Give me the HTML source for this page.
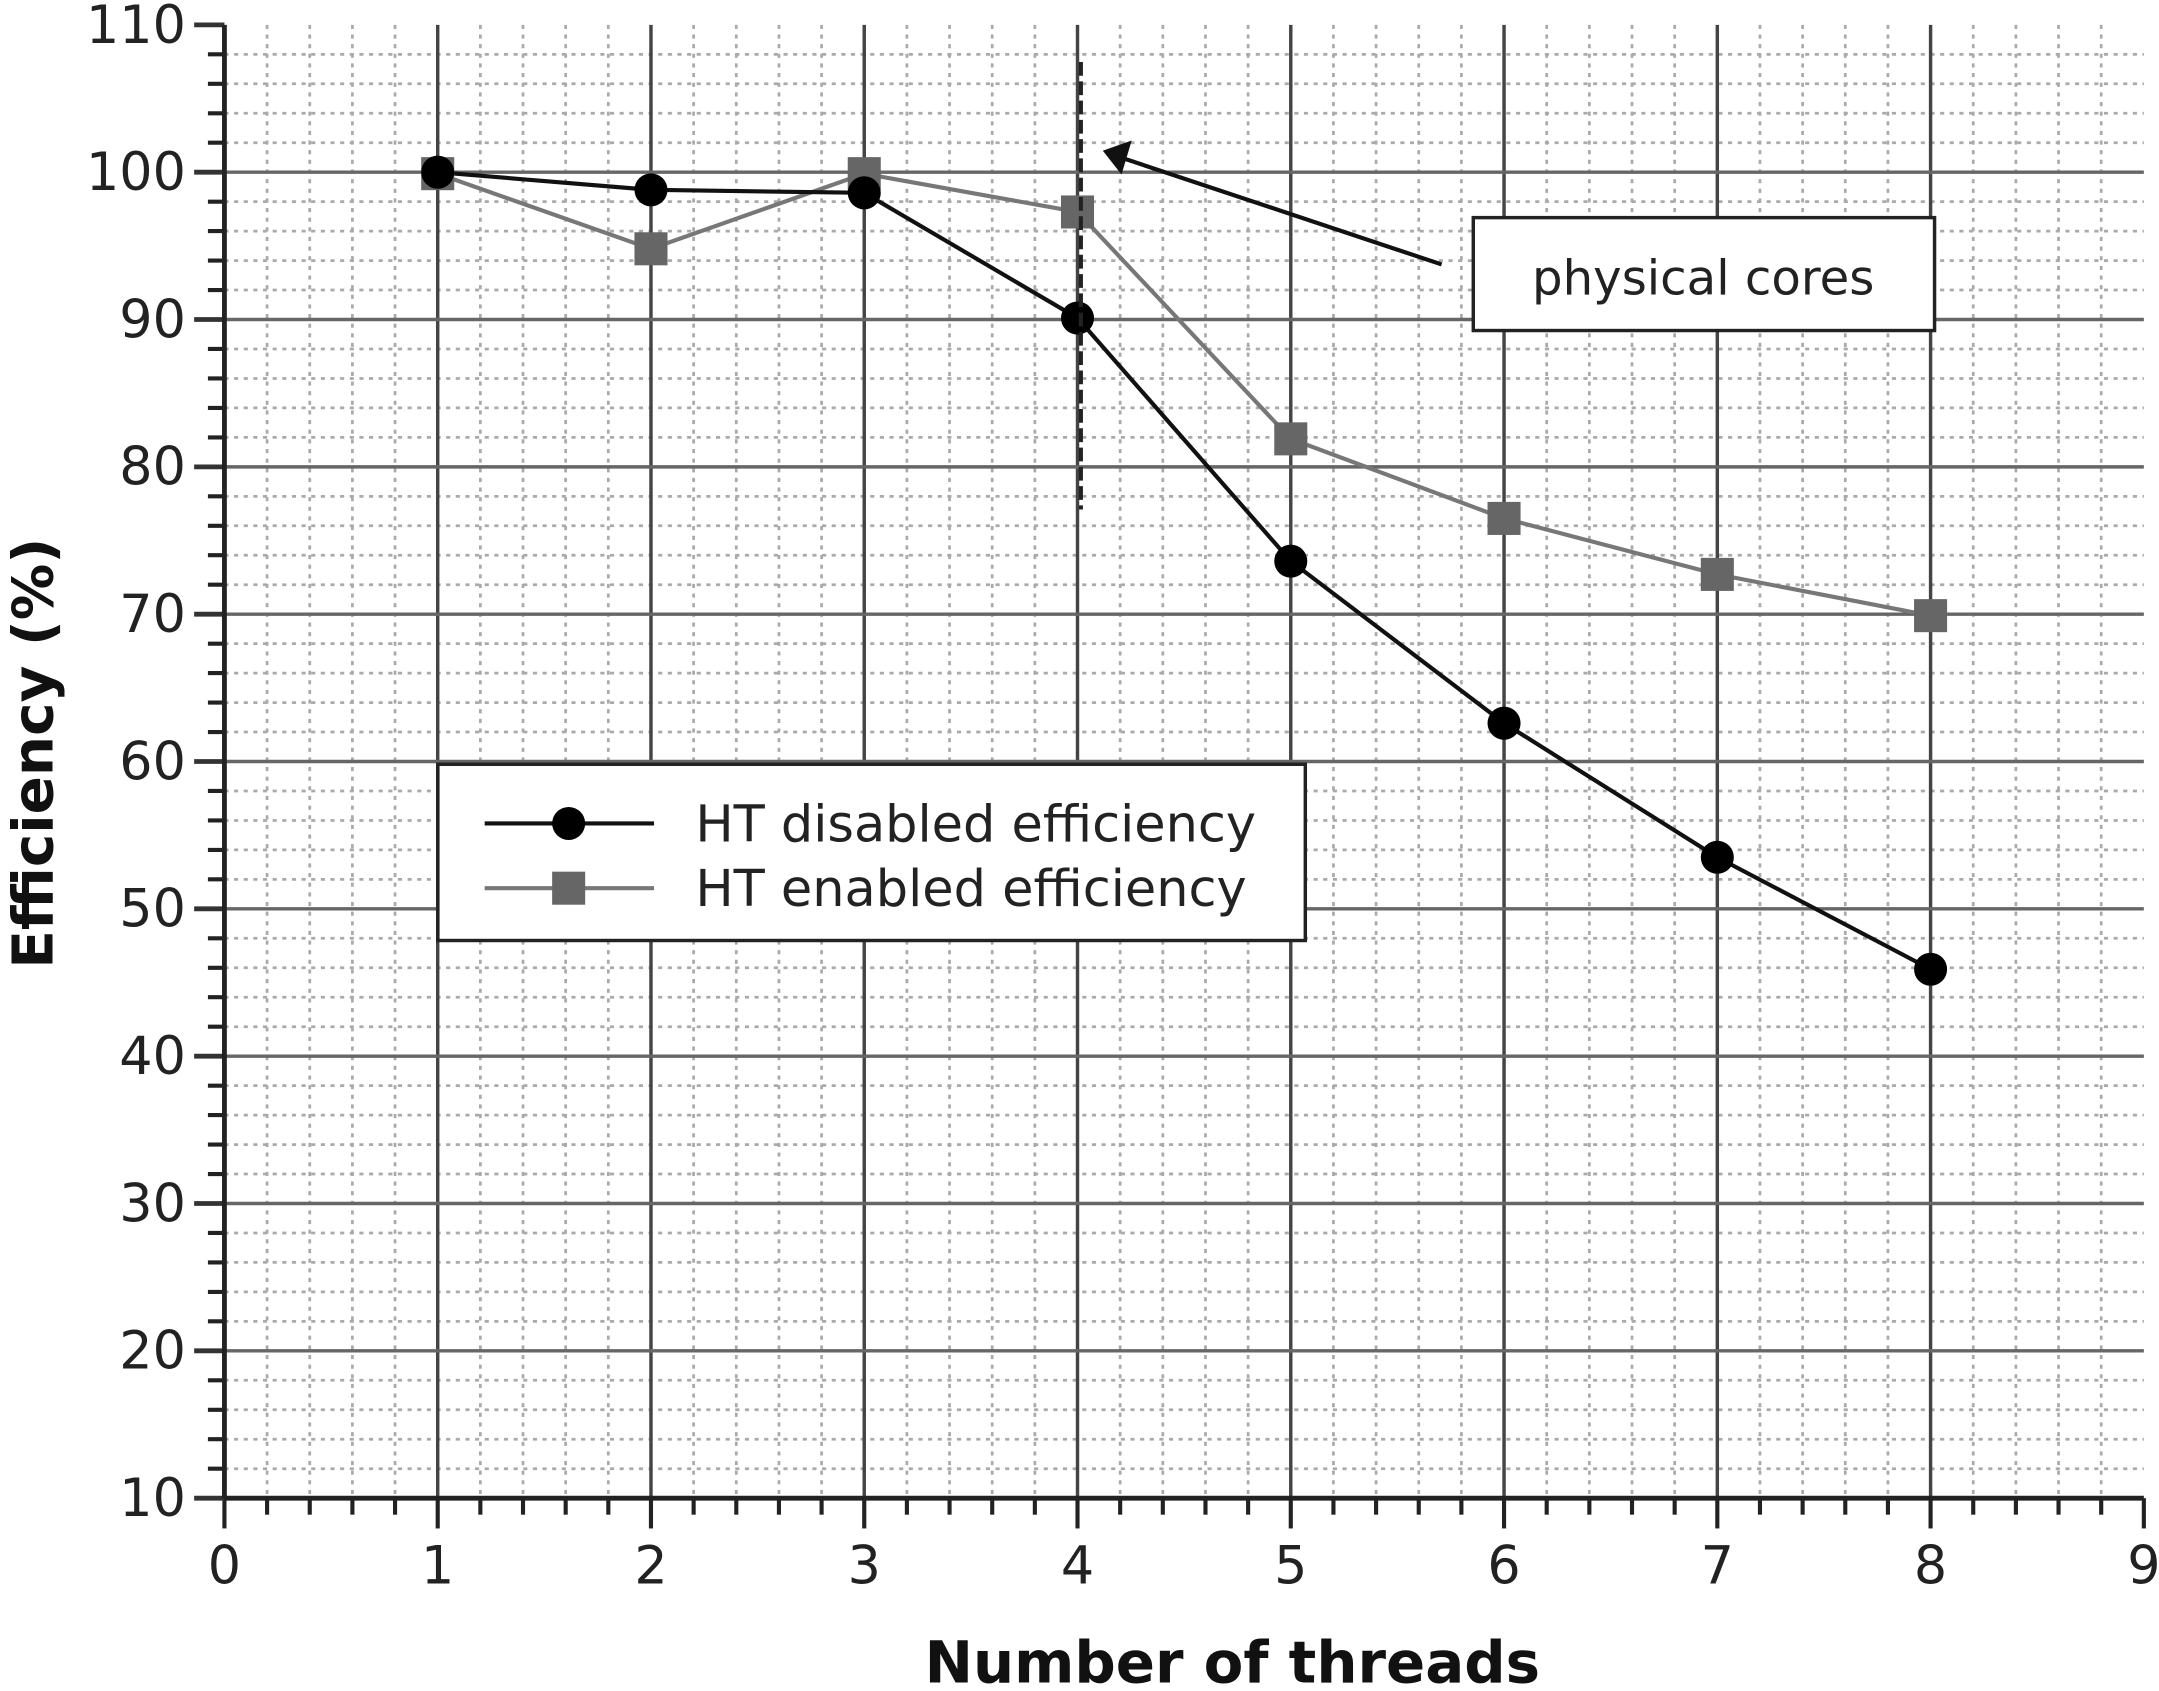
<!DOCTYPE html>
<html><head><meta charset="utf-8"><style>html,body{margin:0;padding:0;background:#fff}svg{display:block}</style></head><body>
<svg id="chart" width="2159" height="1691" viewBox="0 0 1568 1228" xmlns="http://www.w3.org/2000/svg" font-family="'DejaVu Sans','Liberation Sans',sans-serif">
<g id="grid"></g>
<g id="axes"></g>
<g id="series"></g>
<g>
<line x1="785" y1="45" x2="785" y2="370" stroke="#222" stroke-width="3" stroke-dasharray="10,4"/>
<line x1="1047" y1="192" x2="810" y2="113" stroke="#111" stroke-width="3"/>
<path d="M803,110 L820,104 L814,124 Z" stroke="#111" stroke-width="2.5" fill="#111"/>
<rect x="1070" y="158" width="335" height="82" fill="#fff" stroke="#222" stroke-width="2.5"/>
<text x="1237" y="214" font-size="35" text-anchor="middle" fill="#222">physical cores</text>
</g>
<g>
<rect x="318" y="555" width="630" height="128" fill="#fff" stroke="#222" stroke-width="2.5"/>
<line x1="352" y1="598" x2="475" y2="598" stroke="#111" stroke-width="3"/>
<circle cx="413" cy="598" r="12" fill="#000"/>
<text x="505" y="611" font-size="37" fill="#222">HT disabled efficiency</text>
<line x1="352" y1="645" x2="475" y2="645" stroke="#777" stroke-width="3"/>
<rect x="401" y="633" width="24" height="24" fill="#666"/>
<text x="505" y="658" font-size="37" fill="#222">HT enabled efficiency</text>
</g>
<text x="895" y="1222" font-size="42" font-weight="bold" text-anchor="middle" fill="#111">Number of threads</text>
<text transform="translate(38,547) rotate(-90)" font-size="41" font-weight="bold" text-anchor="middle" fill="#111">Efficiency (%)</text>
</svg>
<script>
const threads = [1,2,3,4,5,6,7,8];
const htDisabled = [100,98.8,98.6,90.1,73.6,62.6,53.5,45.9];
const htEnabled = [99.9,94.8,99.9,97.3,81.9,76.5,72.7,69.9];
const xTicks = [0,1,2,3,4,5,6,7,8,9];
const yTicks = [10,20,30,40,50,60,70,80,90,100,110];
const NS='http://www.w3.org/2000/svg';
const X0=163,X1=1557,Y0=1088,Y1=18;
const xs=v=>X0+(v-0)/(9-0)*(X1-X0);
const ys=v=>Y0-(v-10)/(110-10)*(Y0-Y1);
function mk(tag,attrs,parent){const e=document.createElementNS(NS,tag);for(const k in attrs)e.setAttribute(k,attrs[k]);parent.appendChild(e);return e;}
const grid=document.getElementById('grid'),axes=document.getElementById('axes'),series=document.getElementById('series');
for(let v=0;v<=9.001;v+=0.2){const x=xs(v);if(Math.abs(v-Math.round(v))<1e-6)continue;
 const l=mk('line',{x1:x,y1:Y1,x2:x,y2:Y0,stroke:'#aaa','stroke-width':2,'stroke-dasharray':'3,4'},grid);
 
 
 mk('line',{x1:x,y1:Y0,x2:x,y2:Y0+12,stroke:'#222','stroke-width':3},axes);}
for(let v=12;v<110;v+=2){if(v%10===0)continue;const y=ys(v);
 const l=mk('line',{x1:X0,y1:y,x2:X1,y2:y,stroke:'#aaa','stroke-width':2,'stroke-dasharray':'3,4'},grid);
 
 
 mk('line',{x1:X0-12,y1:y,x2:X0,y2:y,stroke:'#222','stroke-width':3},axes);}
xTicks.forEach(v=>{const x=xs(v);
 if(v>0&&v<9){const g=mk('line',{x1:x,y1:Y1,x2:x,y2:Y0,stroke:'#444','stroke-width':2.5},grid);
 
 }
 mk('line',{x1:x,y1:Y0,x2:x,y2:Y0+22,stroke:'#222','stroke-width':3},axes);
 const t=mk('text',{x:x,y:Y0+62,'font-size':38,'text-anchor':'middle',fill:'#222'},axes);t.textContent=v;
 
 });
yTicks.forEach(v=>{const y=ys(v);
 if(v>10&&v<110){const g=mk('line',{x1:X0,y1:y,x2:X1,y2:y,stroke:'#666','stroke-width':2.5},grid);
 
 }
 mk('line',{x1:X0-22,y1:y,x2:X0,y2:y,stroke:'#333','stroke-width':3.5},axes);
 const t=mk('text',{x:X0-28,y:y+13,'font-size':38,'text-anchor':'end',fill:'#222'},axes);t.textContent=v;
 
 });
mk('line',{x1:X0,y1:Y1,x2:X0,y2:Y0,stroke:'#222','stroke-width':3.5},axes);
mk('line',{x1:X0,y1:Y0,x2:X1,y2:Y0,stroke:'#222','stroke-width':3.5},axes);
const pe=mk('polyline',{points:threads.map((t,i)=>xs(t)+','+ys(htEnabled[i])).join(' '),fill:'none',stroke:'#777','stroke-width':3},series);


const pd=mk('polyline',{points:threads.map((t,i)=>xs(t)+','+ys(htDisabled[i])).join(' '),fill:'none',stroke:'#111','stroke-width':3},series);


threads.forEach((t,i)=>{
 const r=mk('rect',{x:xs(t)-12,y:ys(htEnabled[i])-12,width:24,height:24,fill:'#666'},series);
 
 
 const c=mk('circle',{cx:xs(t),cy:ys(htDisabled[i]),r:12,fill:'#000'},series);
 
 
});
</script>
</body></html>
